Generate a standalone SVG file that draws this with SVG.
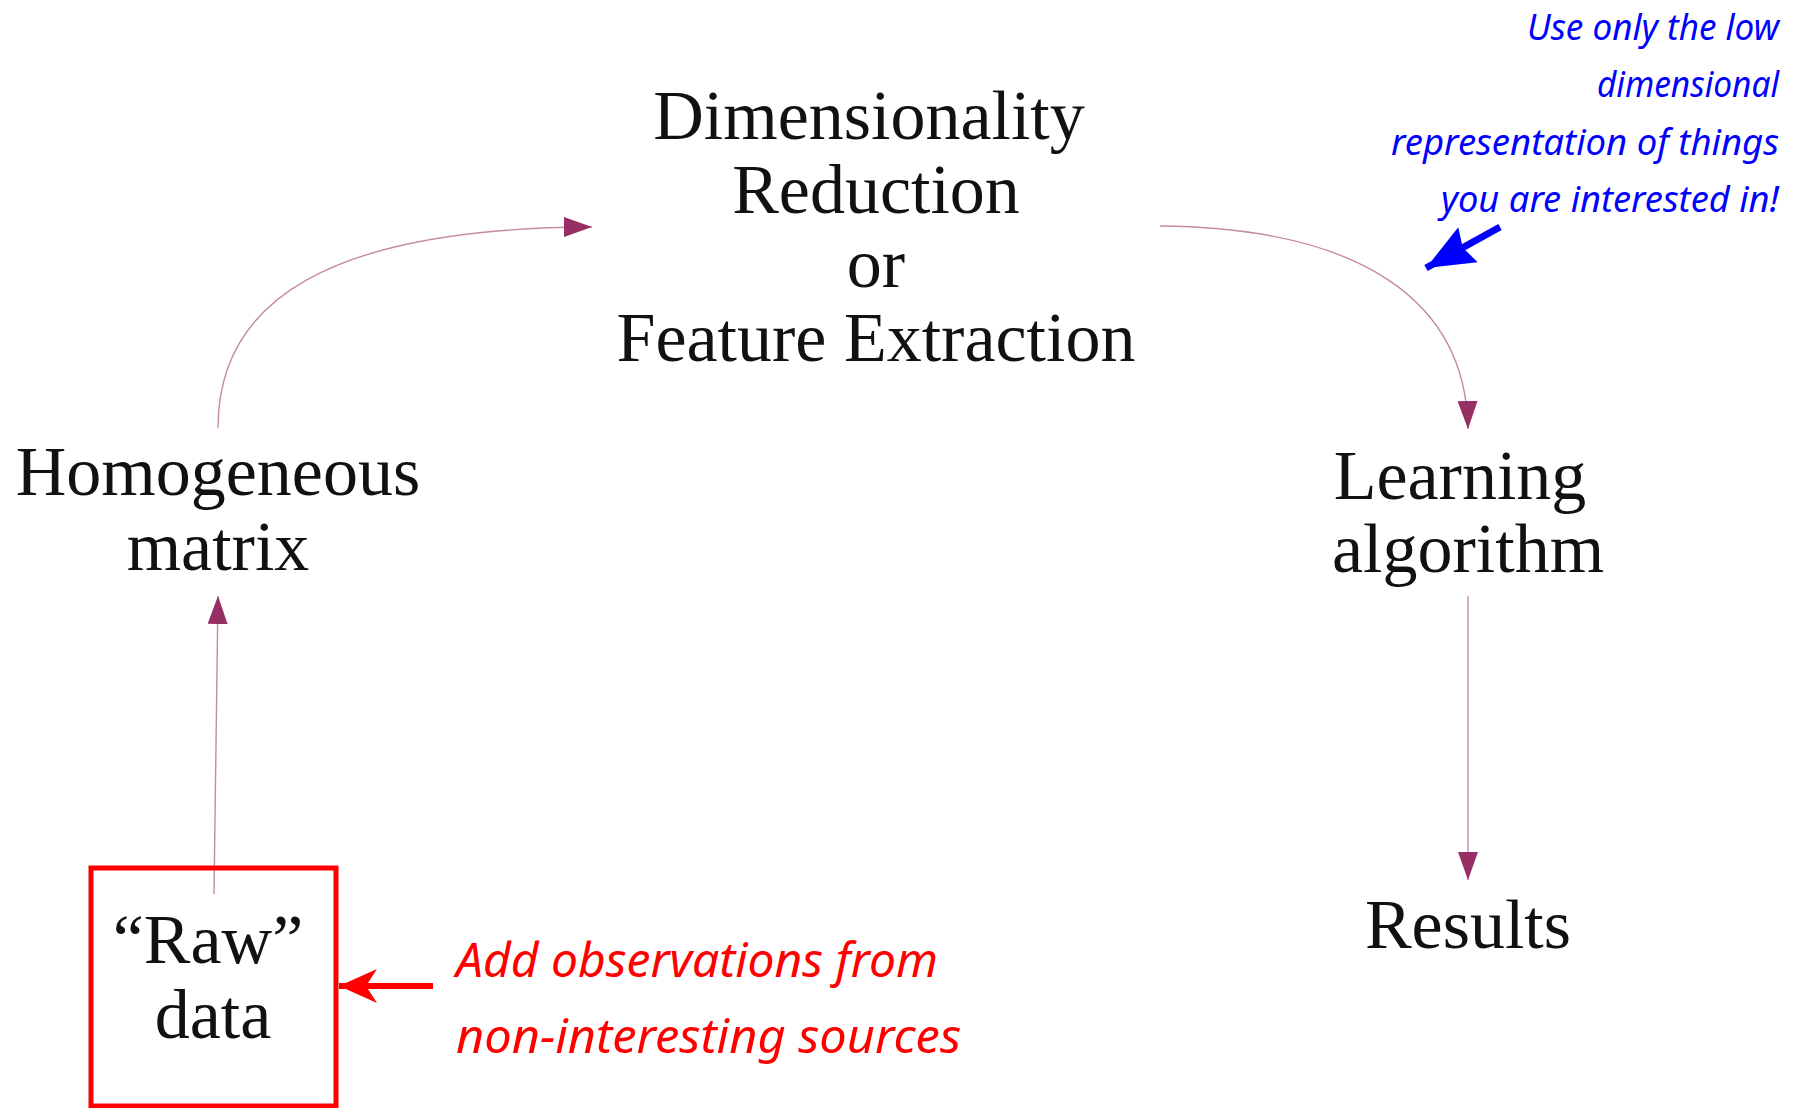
<svg xmlns="http://www.w3.org/2000/svg" width="1798" height="1108" viewBox="0 0 1798 1108">
  <style>
    .node { font-family: "Liberation Serif", "Times New Roman", serif; font-size: 70px; fill: #111; text-anchor: middle; }
    .edge { fill: none; stroke: #c58aa8; stroke-width: 1.4; }
    .note-red { font-family: "Noto Sans", "Open Sans", sans-serif; font-style: italic; font-size: 48px; fill: #ff0000; }
    .note-blue { font-family: "Noto Sans", "Open Sans", sans-serif; font-style: italic; font-size: 37px; fill: #0000ff; text-anchor: end; }
  </style>
  <defs>
    <marker id="head" markerUnits="userSpaceOnUse" markerWidth="30" markerHeight="22" refX="28" refY="10" orient="auto">
      <path d="M0,0 L28,10 L0,20 Z" fill="#952f64"/>
    </marker>
    <marker id="head-red" markerUnits="userSpaceOnUse" markerWidth="40" markerHeight="38" refX="38" refY="19" orient="auto">
      <path d="M0,2 L38,19 L0,36 L11,19 Z" fill="#ff0000"/>
    </marker>
    <marker id="head-blue" markerUnits="userSpaceOnUse" markerWidth="50" markerHeight="44" refX="48" refY="22" orient="auto">
      <path d="M0,2 L48,22 L0,42 L6,22 Z" fill="#0000ff"/>
    </marker>
  </defs>

  <rect width="1798" height="1108" fill="#ffffff"/>

  <!-- connectors between the pipeline stages -->
  <g id="connectors">
    <path class="edge" d="M214,894 L218,596" marker-end="url(#head)"/>
    <path class="edge" d="M218,428 C218,300 330,228 592,227" marker-end="url(#head)"/>
    <path class="edge" d="M1160,226 C1360,228 1466,300 1468,429" marker-end="url(#head)"/>
    <path class="edge" d="M1468,596 L1468,880" marker-end="url(#head)"/>
  </g>

  <g id="node-raw">
    <rect x="91" y="868" width="245" height="238" fill="none" stroke="#ff0000" stroke-width="5"/>
    <text class="node" x="208" y="963">“Raw”</text>
    <text class="node" x="213" y="1038">data</text>
  </g>

  <g id="node-matrix">
    <text class="node" x="218" y="495">Homogeneous</text>
    <text class="node" x="218" y="570">matrix</text>
  </g>

  <g id="node-reduction">
    <text class="node" x="869" y="139">Dimensionality</text>
    <text class="node" x="876" y="213">Reduction</text>
    <text class="node" x="876" y="287">or</text>
    <text class="node" x="876" y="361">Feature Extraction</text>
  </g>

  <g id="node-learning">
    <text class="node" x="1460" y="499">Learning</text>
    <text class="node" x="1468" y="572">algorithm</text>
  </g>

  <g id="node-results">
    <text class="node" x="1468" y="948">Results</text>
  </g>

  <!-- handwritten annotations -->
  <g id="note-sources">
    <line x1="433" y1="986" x2="339" y2="986" stroke="#ff0000" stroke-width="6" marker-end="url(#head-red)"/>
    <text class="note-red" x="456" y="977" textLength="482" lengthAdjust="spacingAndGlyphs">Add observations from</text>
    <text class="note-red" x="456" y="1053" textLength="505" lengthAdjust="spacingAndGlyphs">non-interesting sources</text>
  </g>

  <g id="note-lowdim">
    <line x1="1500" y1="227" x2="1426" y2="268" stroke="#0000ff" stroke-width="7" marker-end="url(#head-blue)"/>
    <text class="note-blue" x="1779" y="40" textLength="252" lengthAdjust="spacingAndGlyphs">Use only the low</text>
    <text class="note-blue" x="1779" y="97" textLength="182" lengthAdjust="spacingAndGlyphs">dimensional</text>
    <text class="note-blue" x="1779" y="155" textLength="388" lengthAdjust="spacingAndGlyphs">representation of things</text>
    <text class="note-blue" x="1779" y="212" textLength="338" lengthAdjust="spacingAndGlyphs">you are interested in!</text>
  </g>
</svg>
